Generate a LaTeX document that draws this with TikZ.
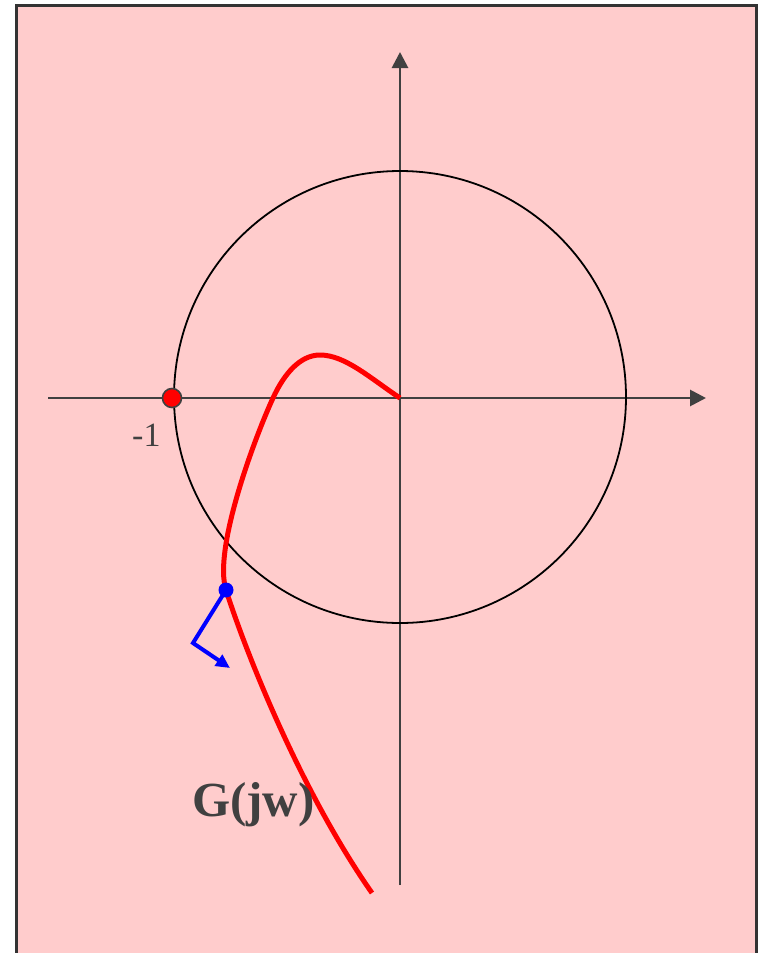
\documentclass[tikz,border=0pt]{standalone}
\usepackage{fontspec}
\setmainfont{Liberation Serif}
\usetikzlibrary{arrows.meta}
\definecolor{bgpink}{RGB}{255,204,204}
\definecolor{axisgray}{RGB}{64,64,64}
\definecolor{framegray}{RGB}{51,51,51}
\begin{document}
\begin{tikzpicture}[x=1pt,y=-1pt,
  axisline/.style={line width=2.8pt,color=axisgray,-{Triangle[length=16pt,width=16pt]}},
  unitcircle/.style={line width=1.8pt,draw=black},
  nyquist/.style={line width=5pt,color=red,line cap=butt},
  bluevec/.style={line width=4pt,color=blue,-{Triangle[length=14pt,width=13pt]}},
  lbl/.style={inner sep=0pt,text=axisgray}]
\useasboundingbox (0,0) rectangle (763,953);
\fill[bgpink,draw=framegray,line width=3pt] (16,5) rectangle (756,975);
% axes
\coordinate (xs) at (48,398);
\coordinate (xe) at (706,398);
\coordinate (ys) at (400,885);
\coordinate (ye) at (400,52);
\draw[axisline] (xs) -- (xe);
\draw[axisline] (ys) -- (ye);
% unit circle
\coordinate (O) at (400,397);
\draw[unitcircle] (O) circle[radius=226];
% Nyquist curve
\draw[nyquist] (400,398) .. controls (370,378) and (345,355) .. (320,355)
  .. controls (300,355) and (284,374) .. (273,398)
  .. controls (255,437) and (213,549) .. (226,590)
  .. controls (245,650) and (300,790) .. (372,893);
% -1 point
\node[circle,fill=red,draw=axisgray,line width=1.6pt,minimum size=19pt,inner sep=0pt] (m1) at (172,398) {};
\node[lbl,anchor=base west,font=\fontsize{34}{38}\selectfont] (m1lbl) at (132,446) {-1};
% blue point and vector
\node[circle,fill=blue,minimum size=15pt,inner sep=0pt] (bp) at (226,590) {};
\coordinate (bc) at (193,643);
\coordinate (bt) at (230,668);
\draw[bluevec,line join=miter] (bp.center) -- (bc) -- (bt);
% label
\node[lbl,anchor=base west,font=\fontsize{49}{54}\selectfont\bfseries] (glbl) at (192,816) {G(jw)};
\end{tikzpicture}
\end{document}
